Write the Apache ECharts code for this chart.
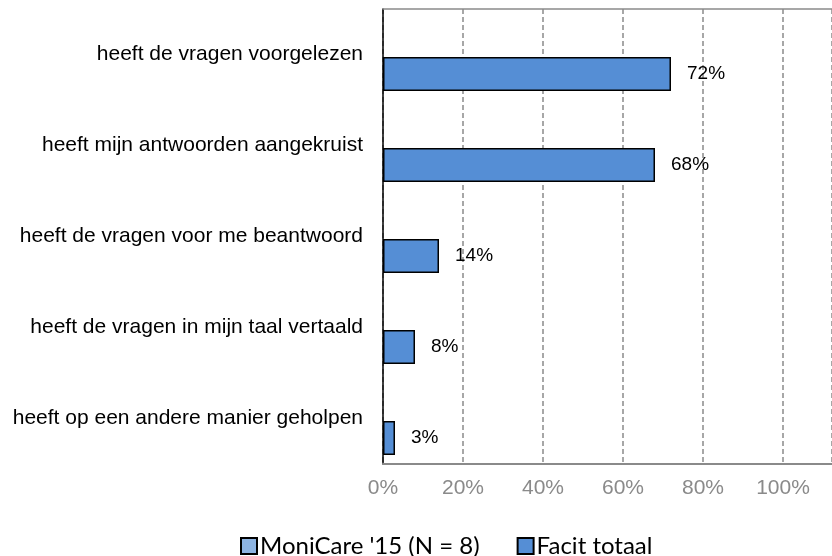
<!DOCTYPE html>
<html>
<head>
<meta charset="utf-8">
<script src="https://cdn.jsdelivr.net/npm/echarts@6/dist/echarts.min.js"></script>
<style>
  html, body { margin: 0; padding: 0; background: #fff; }
  #chart { width: 832px; height: 556px; }
</style>
</head>
<body>
<div id="chart"></div>
<script>
// Categories (top to bottom) and percentages per series
const categories = [
  'heeft de vragen voorgelezen',
  'heeft mijn antwoorden aangekruist',
  'heeft de vragen voor me beantwoord',
  'heeft de vragen in mijn taal vertaald',
  'heeft op een andere manier geholpen'
];
const seriesNames = ["MoniCare '15 (N = 8)", 'Facit totaal'];
const monicareValues = [null, null, null, null, null];
const facitValues = [72, 68, 14, 8, 3];
const xTicks = [0, 20, 40, 60, 80, 100];

const chart = echarts.init(document.getElementById('chart'), null, { renderer: 'canvas' });

// The plot area runs off the right edge of the canvas (4 px per percent point)
const axisMax = 112.25;

const option = {
  animation: false,
  backgroundColor: '#ffffff',
  grid: { left: 383, top: 9, bottom: 92, right: 0, containLabel: false },
  legend: {
    left: 240, top: 534, padding: 0,
    itemWidth: 16, itemHeight: 16, itemGap: 37,
    icon: 'rect',
    textStyle: { fontFamily: 'Lato, "Open Sans", sans-serif', fontSize: 24, color: '#000', padding: [0, 0, 0, -2] },
    data: seriesNames
  },
  xAxis: [
    {
      type: 'value', min: 0, max: axisMax, interval: 20,
      axisLine: { show: true, lineStyle: { color: '#8a8a8a', width: 2 } },
      axisTick: { show: false },
      axisLabel: {
        margin: 14, fontFamily: '"Liberation Sans", Arial, sans-serif', fontSize: 21, color: '#8a8a8a',
        showMaxLabel: false,
        formatter: v => (xTicks.indexOf(v) >= 0 ? v + '%' : '')
      },
      splitLine: { show: true, lineStyle: { color: '#8a8a8a', type: [5, 3], width: 1.5 } }
    },
    {
      // top border of the plot area
      type: 'value', position: 'top', min: 0, max: axisMax,
      axisLine: { show: true, lineStyle: { color: '#8a8a8a', width: 1.5 } },
      axisTick: { show: false }, axisLabel: { show: false }, splitLine: { show: false }
    }
  ],
  yAxis: {
    type: 'category', inverse: true, data: categories,
    axisLine: { show: true, lineStyle: { color: '#000', width: 1.5 } },
    axisTick: { show: false },
    axisLabel: { margin: 20, fontFamily: '"Liberation Sans", Arial, sans-serif', fontSize: 21, color: '#000' }
  },
  series: [
    {
      name: seriesNames[0], type: 'bar', data: monicareValues,
      barCategoryGap: '20%', barGap: '15%',
      itemStyle: { color: '#8DB4E2', borderColor: '#000', borderWidth: 1.5 }
    },
    {
      name: seriesNames[1], type: 'bar', data: facitValues,
      barCategoryGap: '20%', barGap: '15%',
      itemStyle: { color: '#558ED5', borderColor: '#000', borderWidth: 1.5 },
      label: {
        show: true, position: 'right', distance: 16,
        fontFamily: '"Liberation Sans", Arial, sans-serif', fontSize: 19, color: '#000',
        formatter: p => p.value + '%'
      }
    }
  ]
};

chart.setOption(option);
</script>
</body>
</html>
